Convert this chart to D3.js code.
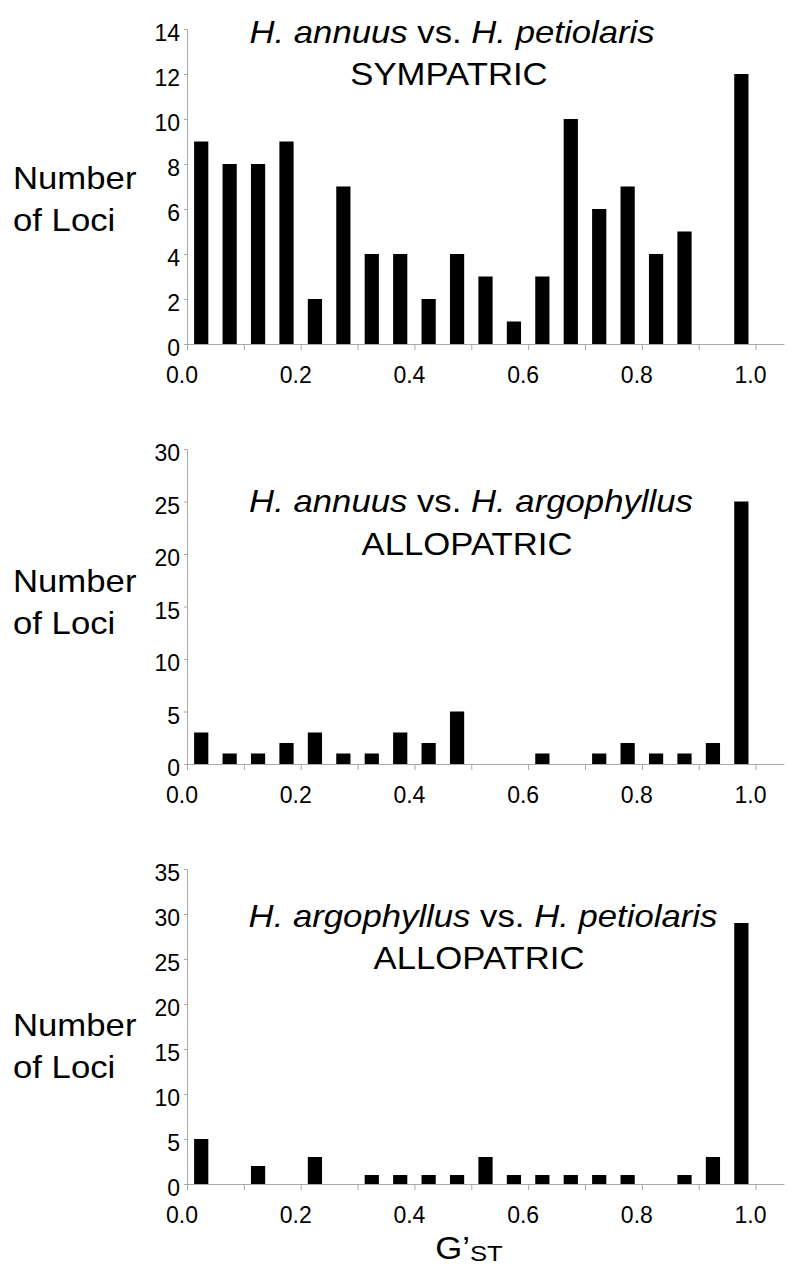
<!DOCTYPE html>
<html>
<head>
<meta charset="utf-8">
<script src="https://cdn.jsdelivr.net/npm/d3@7"></script>
<style>
  body { margin: 0; background: #fff; }
  text { font-family: "Liberation Sans", Arial, sans-serif; fill: #000; }
</style>
</head>
<body>
<div id="graphic"></div>
<script>
// bin centres of the G'ST histogram (bin width 0.05)
var binCenters = [0.025, 0.075, 0.125, 0.175, 0.225, 0.275, 0.325, 0.375, 0.425, 0.475,
                  0.525, 0.575, 0.625, 0.675, 0.725, 0.775, 0.825, 0.875, 0.925, 0.975];

// number of loci per bin
var annPetSympatric  = [9, 8, 8, 9, 2, 7, 4, 4, 2, 4, 3, 1, 3, 10, 6, 7, 4, 5, 0, 12];
var annArgAllopatric = [3, 1, 1, 2, 3, 1, 1, 3, 2, 5, 0, 0, 1, 0, 1, 2, 1, 1, 2, 25];
var argPetAllopatric = [5, 0, 2, 0, 3, 0, 1, 1, 1, 1, 3, 1, 1, 1, 1, 1, 0, 1, 3, 29];

// y ticks of each panel
var yTicks1 = [0, 2, 4, 6, 8, 10, 12, 14];
var yTicks2 = [0, 5, 10, 15, 20, 25, 30];
var yTicks3 = [0, 5, 10, 15, 20, 25, 30, 35];

// x ticks and labels
var xTicks = [0, 0.1, 0.2, 0.3, 0.4, 0.5, 0.6, 0.7, 0.8, 0.9, 1.0];
var xLabelValues = [0, 0.2, 0.4, 0.6, 0.8, 1.0];
var xLabels = ["0.0", "0.2", "0.4", "0.6", "0.8", "1.0"];

// panel titles: [text, italic?] pieces
var titles1 = [["H. annuus", true], [" vs. ", false], ["H. petiolaris", true]];
var titles2 = [["H. annuus", true], [" vs. ", false], ["H. argophyllus", true]];
var titles3 = [["H. argophyllus", true], [" vs. ", false], ["H. petiolaris", true]];
var subtitles = ["SYMPATRIC", "ALLOPATRIC", "ALLOPATRIC"];

var panels = [
    { values: annPetSympatric,  yTicks: yTicks1, title: titles1, sub: subtitles[0],
      top: 0,   t1: [452, 42.5], t2: [449, 85],  lab: 188.5 },
    { values: annArgAllopatric, yTicks: yTicks2, title: titles2, sub: subtitles[1],
      top: 420, t1: [471, 91.5], t2: [467, 135], lab: 172 },
    { values: argPetAllopatric, yTicks: yTicks3, title: titles3, sub: subtitles[2],
      top: 840, t1: [483, 86.5], t2: [479, 128.5], lab: 196 }
];

var width = 800, height = 1274;
var axisColor = "#a8a8a8";
var bigFont = "31px";
var stretch = 1.12;   // the big lettering in the figure is a bit wide

var svg = d3.select("#graphic").append("svg")
    .attr("width", width)
    .attr("height", height);

svg.append("rect").attr("width", width).attr("height", height).attr("fill", "#fff");

var x = d3.scaleLinear().domain([0, 1.05]).range([187, 784]);
var barW = (x(0.05) - x(0)) * 0.5;

function wideText(parent, px, py) {
    return parent.append("text")
        .attr("transform", "translate(" + px + "," + py + ") scale(" + stretch + ",1)")
        .style("font-size", bigFont);
}

panels.forEach(function(p) {
    var g = svg.append("g").attr("transform", "translate(0," + p.top + ")");
    var ymax = p.yTicks[p.yTicks.length - 1];
    var y = d3.scaleLinear().domain([0, ymax]).range([344, 29]);

    // bars
    g.selectAll("rect.bar").data(p.values)
        .enter().append("rect")
        .attr("class", "bar")
        .attr("x", function(d, i) { return x(binCenters[i]) - barW / 2; })
        .attr("width", barW)
        .attr("y", function(d) { return y(d); })
        .attr("height", function(d) { return y(0) - y(d); })
        .attr("fill", "#000");

    // x axis
    var xAxis = g.append("g")
        .attr("transform", "translate(0," + y(0) + ")")
        .call(d3.axisBottom(x).tickValues(xTicks).tickSize(6).tickSizeOuter(0).tickFormat(""));
    xAxis.selectAll("path, line").attr("stroke", axisColor);

    g.selectAll("text.xlab").data(xLabelValues)
        .enter().append("text")
        .attr("class", "xlab")
        .attr("x", function(d) { return x(d) - 5; })
        .attr("y", 383)
        .attr("text-anchor", "middle")
        .style("font-size", "23px")
        .text(function(d, i) { return xLabels[i]; });

    // y axis
    var yAxis = g.append("g")
        .attr("transform", "translate(" + x(0) + ",0)")
        .call(d3.axisLeft(y).tickValues(p.yTicks).tickSize(3).tickSizeOuter(0).tickFormat(""));
    yAxis.selectAll("path, line").attr("stroke", axisColor);

    g.selectAll("text.ylab").data(p.yTicks)
        .enter().append("text")
        .attr("class", "ylab")
        .attr("x", 180)
        .attr("y", function(d) { return y(d) + 12; })
        .attr("text-anchor", "end")
        .style("font-size", "23px")
        .text(function(d) { return d; });

    // titles
    var t = wideText(g, p.t1[0], p.t1[1]).attr("text-anchor", "middle");
    t.selectAll("tspan").data(p.title)
        .enter().append("tspan")
        .style("font-style", function(d) { return d[1] ? "italic" : "normal"; })
        .attr("xml:space", "preserve")
        .text(function(d) { return d[0]; });

    wideText(g, p.t2[0], p.t2[1]).attr("text-anchor", "middle").text(p.sub);

    // y label
    wideText(g, 13, p.lab).text("Number");
    wideText(g, 13, p.lab + 42).text("of Loci");
});

// x axis title G'ST
var gst = svg.append("text")
    .attr("transform", "translate(469,1259) scale(" + stretch + ",1)")
    .attr("text-anchor", "middle");
gst.append("tspan").style("font-size", "31px").text("G\u2019");
gst.append("tspan").style("font-size", "23px").attr("dy", 2).text("ST");
</script>
</body>
</html>
